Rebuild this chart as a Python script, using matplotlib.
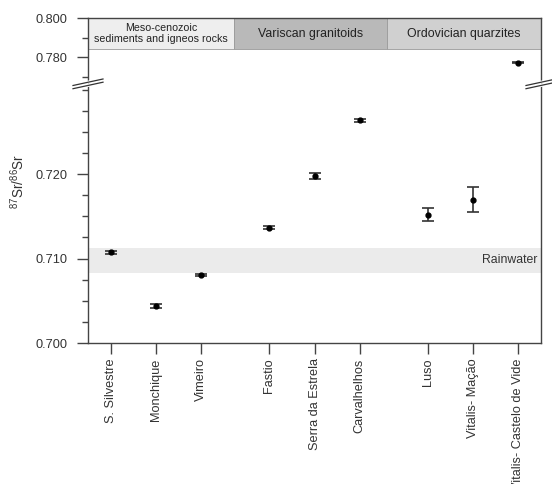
import matplotlib
matplotlib.use("Agg")
import matplotlib.pyplot as plt
from matplotlib.ticker import MultipleLocator, FixedLocator
from matplotlib.lines import Line2D
from matplotlib.patches import Rectangle

plt.rcParams['font.family'] = ['Liberation Sans', 'DejaVu Sans']
plt.rcParams['mathtext.default'] = 'regular'

categories = ["S. Silvestre", "Monchique", "Vimeiro", "Fastio", "Serra da Estrela",
              "Carvalhelhos", "Luso", "Vitalis- Mação", "Vitalis- Castelo de Vide"]
positions = [1, 2, 3, 4.5, 5.5, 6.5, 8, 9, 10]
values = [0.71073, 0.70438, 0.70805, 0.71364, 0.71976, 0.72635, 0.71519, 0.71696, 0.7773]
errors = [0.00020, 0.00020, 0.00010, 0.00015, 0.00035, 0.00015, 0.00080, 0.00150, 0.00025]

groups = ["Meso-cenozoic\nsediments and igneos rocks", "Variscan granitoids", "Ordovician quarzites"]
group_bounds = [(0.5, 3.72), (3.72, 7.09), (7.09, 10.5)]
group_colors = ["#eeeeee", "#b9b9b9", "#d0d0d0"]
group_fs = [7.7, 8.9, 8.9]

rain_low, rain_high = 0.7083, 0.7113

W, H = 552, 484
fig = plt.figure(figsize=(W/100, H/100), dpi=100)
L, R = 88/W, 541/W
y_top, y_brk, y_bot = 18, 83, 343
ax_t = fig.add_axes([L, 1 - y_brk/H, R - L, (y_brk - y_top)/H])
ax_b = fig.add_axes([L, 1 - y_bot/H, R - L, (y_bot - y_brk)/H])

spc = "#444444"
for ax in (ax_t, ax_b):
    ax.set_xlim(0.5, 10.5)
    for s in ax.spines.values():
        s.set_color(spc)
        s.set_linewidth(1.0)
    ax.tick_params(axis='y', which='major', length=8, width=1, color=spc,
                   labelsize=9.2, labelcolor="#333333", pad=6.5)
    ax.tick_params(axis='y', which='minor', length=4.5, width=1, color=spc)

ax_t.set_ylim(0.7669, 0.800)
ax_b.set_ylim(0.700, 0.73077)
ax_t.spines['bottom'].set_visible(False)
ax_b.spines['top'].set_visible(False)
ax_t.set_xticks([])
ax_t.yaxis.set_major_locator(FixedLocator([0.780, 0.800]))
ax_t.yaxis.set_minor_locator(FixedLocator([0.770, 0.790]))
ax_b.yaxis.set_major_locator(FixedLocator([0.700, 0.710, 0.720]))
ax_b.yaxis.set_minor_locator(MultipleLocator(0.0025))
ax_t.yaxis.set_major_formatter(plt.FuncFormatter(lambda v, p: f"{v:.3f}"))
ax_b.yaxis.set_major_formatter(plt.FuncFormatter(lambda v, p: f"{v:.3f}"))

ax_b.set_xticks(positions)
ax_b.set_xticklabels(categories, rotation=90, fontsize=9.2, color="#333333")
ax_b.tick_params(axis='x', length=8, width=1, color=spc, pad=3)

# rainwater band
ax_b.axhspan(rain_low, rain_high, color="#ebebeb", zorder=0, lw=0)
ax_b.text(10.43, (rain_low + rain_high) / 2, "Rainwater", ha='right', va='center',
          fontsize=8.8, color="#333333")

# data
for x, v, e in zip(positions, values, errors):
    for ax in (ax_t, ax_b):
        ax.errorbar([x], [v], yerr=[e], fmt='o', color='black', ms=3.5,
                    ecolor="#333333", elinewidth=1.2, capsize=4.5, capthick=1.2,
                    clip_on=True, zorder=3)

# header bands
for (x0, x1), g, c, fs in zip(group_bounds, groups, group_colors, group_fs):
    ax_t.add_patch(Rectangle((x0, 0.7841), x1 - x0, 0.800 - 0.7841, facecolor=c,
                             edgecolor="#9a9a9a", lw=0.6, zorder=2))
    ax_t.text((x0 + x1) / 2, (0.7841 + 0.800) / 2, g, ha='center', va='center',
              fontsize=fs, color="#222222", linespacing=1.2, zorder=4)

# y label
fig.text(18/W, 1 - 181/H, "$^{87}$Sr/$^{86}$Sr", rotation=90, ha='center', va='center',
         fontsize=9.8, color="#333333")

# break marks
def brk(xc):
    for dy in (0, 3.2):
        x0, x1 = xc - 15, xc + 15
        ya, yb = y_brk + 2.5 + dy, y_brk - 4 + dy
        fig.add_artist(Line2D([x0/W, x1/W], [1 - ya/H, 1 - yb/H], color="white",
                              lw=2.2, transform=fig.transFigure))
    for dy in (0, 3.2):
        x0, x1 = xc - 15, xc + 15
        ya, yb = y_brk + 2.5 + dy, y_brk - 4 + dy
        fig.add_artist(Line2D([x0/W, x1/W], [1 - ya/H, 1 - yb/H], color="#333333",
                              lw=0.9, transform=fig.transFigure))
brk(88)
brk(541)

fig.savefig("out.png", dpi=100)
